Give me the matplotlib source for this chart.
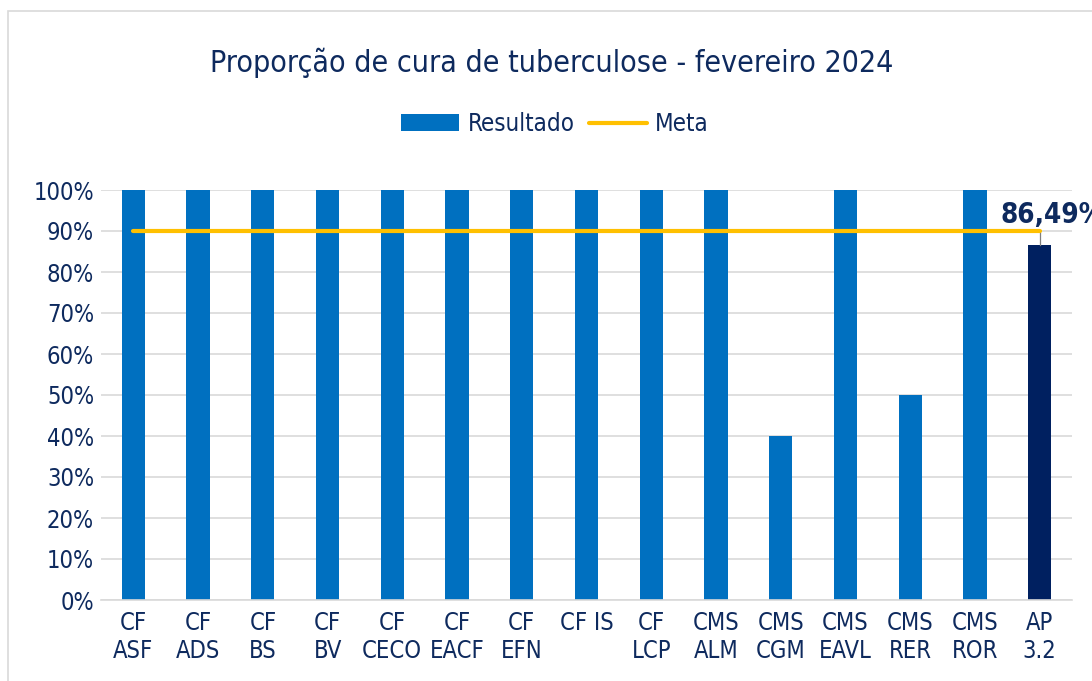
import matplotlib.pyplot as plt
from matplotlib.patches import Rectangle
import numpy as np

# dados do gráfico
unidades = ['CF\nASF', 'CF\nADS', 'CF\nBS', 'CF\nBV', 'CF\nCECO', 'CF\nEACF', 'CF\nEFN',
            'CF IS', 'CF\nLCP', 'CMS\nALM', 'CMS\nCGM', 'CMS\nEAVL', 'CMS\nRER',
            'CMS\nROR', 'AP\n3.2']
resultado = [100, 100, 100, 100, 100, 100, 100, 100, 100, 100, 40, 100, 50, 100, 86.49]
meta = [90] * 15
rotulo_ap = '86,49%'

azul = '#0070C0'
marinho = '#002060'
amarelo = '#FFC000'
texto = '#0E2A5E'
cinza = '#D9D9D9'

plt.rcParams['font.family'] = ['DejaVu Sans Condensed', 'DejaVu Sans']
plt.rcParams['font.stretch'] = 'condensed'

fig = plt.figure(figsize=(10.92, 6.81), dpi=100)
ax = fig.add_axes([101 / 1092, 1 - 600 / 681, (1072 - 101) / 1092, (600 - 190) / 681])

# borda do gráfico
fig.patches.append(Rectangle((8 / 1092, -0.1), 1.2, 1.1 - 11 / 681 + 0.0002,
                             transform=fig.transFigure, fill=False,
                             edgecolor=cinza, linewidth=1.2))

x = np.arange(len(unidades))
cores = [azul] * (len(unidades) - 1) + [marinho]
barras = ax.bar(x, resultado, width=0.36, color=cores, zorder=2, label='Resultado')
linha, = ax.plot(x, meta, color=amarelo, linewidth=3, solid_capstyle='round', zorder=3, label='Meta')

# linha guia e rótulo do último ponto
ax.plot([x[-1], x[-1]], [resultado[-1], meta[-1]], color='#7F7F7F', linewidth=0.9, zorder=2)
ax.annotate(rotulo_ap, (x[-1], meta[-1]), xytext=(-28.5, 5.5), textcoords='offset points',
            ha='left', va='baseline', fontsize=20, fontweight='bold', color=texto,
            annotation_clip=False)

ax.set_xlim(-0.5, len(unidades) - 0.5)
ax.set_ylim(0, 100)
ax.set_yticks(range(0, 101, 10))
ax.set_yticklabels([f'{v}%' for v in range(0, 101, 10)])
ax.set_xticks(x)
ax.set_xticklabels(unidades, linespacing=1.22)
ax.tick_params(axis='both', length=0, labelsize=17, labelcolor=texto)
ax.tick_params(axis='x', pad=8)
ax.tick_params(axis='y', pad=5)
ax.grid(axis='y', color=cinza, linewidth=1.2, zorder=0)
ax.set_axisbelow(True)
for lado in ['top', 'right', 'left']:
    ax.spines[lado].set_visible(False)
ax.spines['bottom'].set_color(cinza)
ax.spines['bottom'].set_linewidth(1.2)

fig.text(552 / 1092, 1 - 72 / 681, 'Proporção de cura de tuberculose - fevereiro 2024',
         ha='center', va='baseline', fontsize=21.7, color=texto)

fig.legend([barras, linha], ['Resultado', 'Meta'], loc='center',
           bbox_to_anchor=(555 / 1092, 1 - 124 / 681), ncol=2, frameon=False,
           fontsize=17.3, labelcolor=texto, handlelength=2.4, handleheight=0.7,
           handletextpad=0.35, columnspacing=0.6)

fig.savefig('out.png', dpi=100)
